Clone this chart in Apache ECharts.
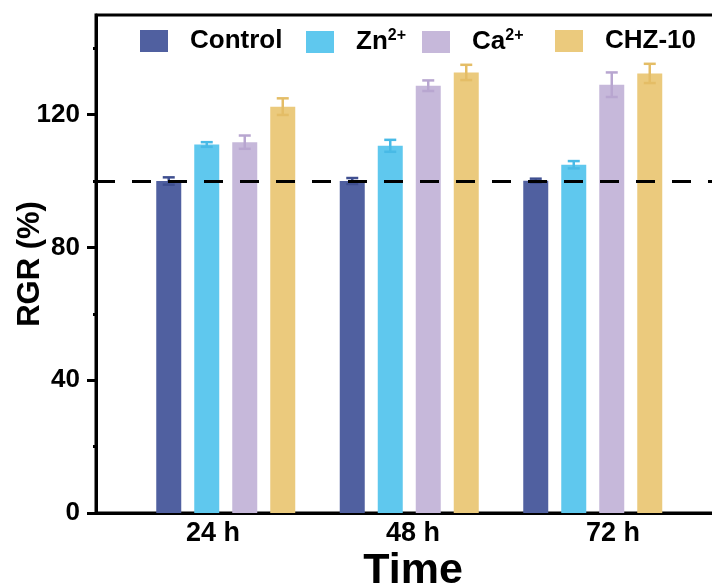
<!DOCTYPE html>
<html>
<head>
<meta charset="utf-8">
<script src="https://cdn.jsdelivr.net/npm/echarts@6/dist/echarts.min.js"></script>
<style>html,body{margin:0;padding:0;background:#fff}#c{width:712px;height:588px}</style>
</head>
<body>
<div id="c"></div>
<script>
const categories = ['24 h', '48 h', '72 h'];
const seriesNames = ['Control', 'Zn2+', 'Ca2+', 'CHZ-10'];
const control = [100, 100, 100.1];
const zn = [111, 110.6, 104.9];
const ca = [111.7, 128.7, 129];
const chz = [122.4, 132.7, 132.4];
const controlErr = [1.1, 0.9, 0.6];
const znErr = [0.7, 1.8, 1.1];
const caErr = [2, 1.6, 3.7];
const chzErr = [2.5, 2.3, 2.9];
const yTicks = [0, 40, 80, 120];
const refLine = 100;
const yMin = 0, yMax = 150;

const colors = ['#5060A0', '#5FC8EE', '#C6B8DA', '#EBCA7D'];
const errColors = ['#3F4F90', '#48BAE6', '#B8A6D0', '#E4BD66'];
const legendLeft = [140, 306, 422, 555];
const values = [control, zn, ca, chz];
const errs = [controlErr, znErr, caErr, chzErr];

const FONT = '"Liberation Sans", Arial, sans-serif';
const BAR_W = 25, GAP_RATIO = 0.52;
const GRID_TOP = 15, GRID_BOTTOM = 75;

const chart = echarts.init(document.getElementById('c'), null, {renderer: 'canvas'});

const barSeries = values.map((v, i) => ({
  name: seriesNames[i],
  type: 'bar',
  xAxisIndex: 1, yAxisIndex: 1,
  data: v,
  barWidth: BAR_W,
  barGap: (GAP_RATIO * 100) + '%',
  itemStyle: {color: colors[i]},
  z: 2
}));

const errSeries = values.map((v, i) => ({
  type: 'custom',
  xAxisIndex: 1, yAxisIndex: 1,
  z: 4,
  data: v.map((val, j) => [j, val, errs[i][j]]),
  renderItem: function (params, api) {
    const j = api.value(0), val = api.value(1), e = api.value(2);
    const step = BAR_W * (1 + GAP_RATIO);
    const off = (i - 1.5) * step;
    const hi = api.coord([j, val + e]);
    const lo = api.coord([j, val - e]);
    const x = hi[0] + off;
    const half = 6;
    const st = {stroke: errColors[i], lineWidth: 2.5};
    return {
      type: 'group',
      children: [
        {type: 'line', shape: {x1: x, y1: hi[1], x2: x, y2: lo[1]}, style: st},
        {type: 'line', shape: {x1: x - half, y1: hi[1], x2: x + half, y2: hi[1]}, style: st},
        {type: 'line', shape: {x1: x - half, y1: lo[1], x2: x + half, y2: lo[1]}, style: st}
      ]
    };
  }
}));

const legendRich = {
  n: {fontFamily: FONT, fontWeight: 'bold', fontSize: 26, color: '#000'},
  s: {fontFamily: FONT, fontWeight: 'bold', fontSize: 16, color: '#000', verticalAlign: 'top', padding: [0, 0, 12, 0]}
};

const legends = seriesNames.map((name, i) => ({
  left: legendLeft[i], top: 28, padding: 0,
  itemWidth: 28, itemHeight: 22,
  icon: 'rect',
  data: [name],
  formatter: function (nm) {
    const m = nm.match(/^(.*?)(\d\+)$/);
    return m ? '{n|' + m[1] + '}{s|' + m[2] + '}' : '{n|' + nm + '}';
  },
  textStyle: {fontFamily: FONT, fontWeight: 'bold', fontSize: 26, color: '#000', padding: [0, 0, 0, 17], rich: legendRich}
}));

const option = {
  animation: false,
  backgroundColor: '#fff',
  grid: [
    {left: 96, top: GRID_TOP, right: -40, bottom: GRID_BOTTOM, show: true, borderColor: '#000', borderWidth: 3, backgroundColor: 'transparent', containLabel: false, outerBoundsMode: 'none'},
    {left: 134, top: GRID_TOP, width: 550.5, bottom: GRID_BOTTOM, containLabel: false, outerBoundsMode: 'none'},
    {left: 113, top: GRID_TOP, width: 600, bottom: GRID_BOTTOM, containLabel: false, outerBoundsMode: 'none'}
  ],
  legend: legends,
  xAxis: [
    {type: 'value', gridIndex: 0, min: 0, max: 1, axisLine: {show: true, onZero: false, lineStyle: {color: '#000', width: 3}},
      axisTick: {show: false}, axisLabel: {show: false}, splitLine: {show: false}},
    {type: 'category', gridIndex: 1, data: categories, axisLine: {show: false}, axisTick: {show: false}, axisLabel: {show: false}},
    {type: 'category', gridIndex: 2, data: categories, axisLine: {show: false}, axisTick: {show: false},
      axisLabel: {show: true, fontFamily: FONT, fontWeight: 'bold', fontSize: 27, color: '#000', margin: 7},
      name: 'Time', nameLocation: 'middle', nameGap: 37, nameMoveOverlap: false,
      nameTextStyle: {fontFamily: FONT, fontWeight: 'bold', fontSize: 43, color: '#000'}}
  ],
  yAxis: [
    {type: 'value', gridIndex: 0, min: yMin, max: yMax, interval: 40,
      axisLine: {show: true, lineStyle: {color: '#000', width: 3}},
      axisTick: {show: true, inside: false, length: 9, customValues: yTicks, lineStyle: {color: '#000', width: 3}},
      minorTick: {show: true, splitNumber: 2, length: 3, lineStyle: {color: '#000', width: 3}},
      axisLabel: {show: true, customValues: yTicks, margin: 16, fontFamily: FONT, fontWeight: 'bold', fontSize: 26, color: '#000'},
      splitLine: {show: false},
      name: 'RGR (%)', nameLocation: 'middle', nameGap: 50, nameRotate: 90, nameMoveOverlap: false,
      nameTextStyle: {fontFamily: FONT, fontWeight: 'bold', fontSize: 31, color: '#000'}},
    {type: 'value', gridIndex: 1, min: yMin, max: yMax, show: false},
    {type: 'value', gridIndex: 2, min: yMin, max: yMax, show: false}
  ],
  series: [
    ...barSeries,
    ...errSeries,
    {
      type: 'line', xAxisIndex: 0, yAxisIndex: 0, data: [], z: 6,
      markLine: {
        silent: true, symbol: 'none', label: {show: false},
        lineStyle: {color: '#000', width: 3, type: [19, 17]},
        data: [{yAxis: refLine}]
      }
    }
  ]
};
chart.setOption(option);
</script>
</body>
</html>
